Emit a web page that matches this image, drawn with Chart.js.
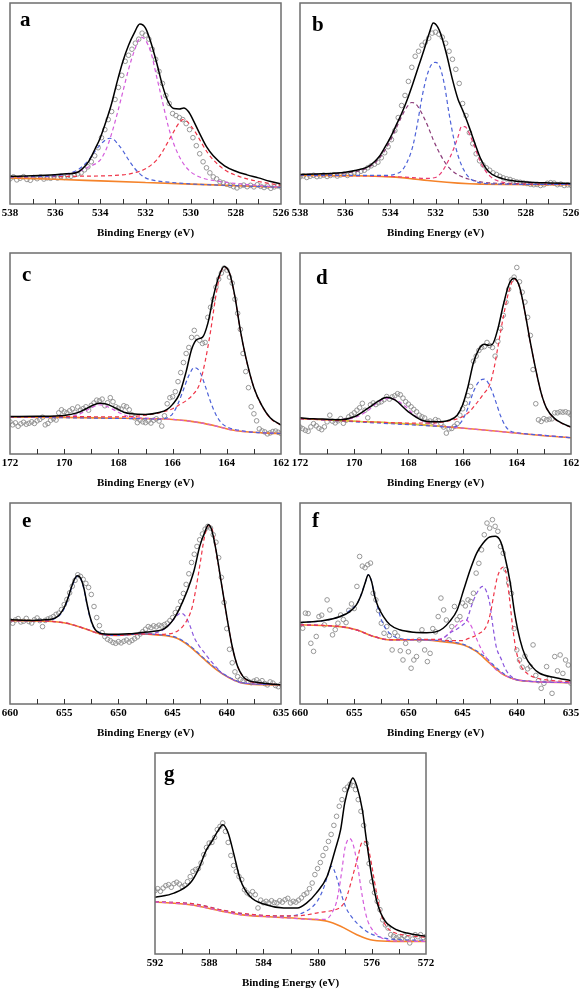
<!DOCTYPE html>
<html>
<head>
<meta charset="utf-8">
<script src="https://cdn.jsdelivr.net/npm/chart.js@4.4.1/dist/chart.umd.min.js"></script>
<style>
html, body { margin: 0; padding: 0; background: #fff; width: 581px; height: 992px; overflow: hidden; position: relative; }
canvas { position: absolute; }
.tag { position: absolute; font: bold 21px 'Liberation Serif', 'Times New Roman', serif; line-height: 21px; color: #000; }
</style>
</head>
<body>
<canvas id="pa" width="311" height="250" style="left:-10px;top:-7px"></canvas>
<canvas id="pb" width="311" height="250" style="left:280px;top:-7px"></canvas>
<canvas id="pc" width="311" height="250" style="left:-10px;top:243px"></canvas>
<canvas id="pd" width="311" height="250" style="left:280px;top:243px"></canvas>
<canvas id="pe" width="311" height="250" style="left:-10px;top:493px"></canvas>
<canvas id="pf" width="311" height="250" style="left:280px;top:493px"></canvas>
<canvas id="pg" width="311" height="249" style="left:135px;top:743px"></canvas>
<div class="tag" style="left:20px;top:9px">a</div>
<div class="tag" style="left:312px;top:14px">b</div>
<div class="tag" style="left:22px;top:264px">c</div>
<div class="tag" style="left:316px;top:267px">d</div>
<div class="tag" style="left:22px;top:510px">e</div>
<div class="tag" style="left:312px;top:510px">f</div>
<div class="tag" style="left:164px;top:763px">g</div>
<script>
// measured points, on a regular energy grid (start, step, values)
var aStart = 538, aStep = 0.15;
var aPts = [12.5,13.5,12,12.8,13.6,12.2,11.8,13.2,12.6,13.5,12.4,13,12.8,13.5,12.9,13.8,13.2,14,13.8,14.5,
  15,15.5,17,18.5,21,24,28,33,37,42,46,52,58,64,71,74,77,80,82,85,84,82,77,72,66,60,54,50,45,44,
  43,42,40,37,33,29,25,21,18,15.5,13.5,12.5,11,10.5,9.8,9.3,8.6,8,9,9.4,8.6,9.3,8.5,9.6,8.8,8.2,8.9,7.8,8.5,9,8.4];
var bStart = 538, bStep = 0.15;
var bPts = [13.5,14,13.2,13.8,14.3,13.6,13.9,14.4,13.7,14.2,14.6,13.9,14.5,14.8,14.2,15,15.6,15.2,16.3,16.8,
  18,19,19.8,20.8,23,25.5,28.5,32,36.5,43,49,54,61,68,73.5,76,79,80.5,82.5,85,85.5,84.5,83,80,76,72,67,60,50,44,
  35.5,30,25,21.5,19.5,18,16.8,15.5,14.7,13.8,13,12.5,12.2,11.5,11,10.8,10.5,10.2,9.8,9.6,9.7,9.2,9.6,10.3,10.6,10.4,9.6,9.9,9.2,9.5,9.3];
var cStart = 172, cStep = 0.1;
var cPts = [16,14.5,15.5,13.8,15,15.8,14.8,15.3,16,15.2,16.5,17.2,18.3,14.5,15.2,16.8,17.6,16.9,20.5,22,
  21,20.5,21.5,22.5,20.8,23.4,21.8,22.6,23.5,21.8,24.2,25.4,26.8,26.4,27.3,24,25.5,28,26,23.5,
  22.8,22.3,24,23.5,22,19.5,18,15.6,16.8,16,15.6,16.4,15.4,16.8,17.5,16.4,13.9,19,25,28,
  28.5,31,36,40.5,45.5,50,53,58,61.5,58,56.5,55,55.5,68,73,77,83,87,90,92.5,
  91.5,88,85,77,70,62,50,41,33,23.5,20,16.5,12.5,11.5,11,10,10.5,11.2,11.4,10.8,10.2];
var dStart = 172, dStep = 0.1;
var dPts = [13.4,12.6,11.8,11.3,13.5,15.1,14,12.8,12.1,13.5,16,19.3,16.3,15.5,16.5,17.6,15.3,16.8,18.5,19.5,
  20.5,21.8,23,25.2,21.8,18,24.5,25.4,24.6,25.5,26,27,28.6,27.3,28.4,29,30,29.5,27.8,26,
  24.8,23.5,22.2,21,19.3,18.5,17.9,16,16.4,15.8,17.1,16.6,15.2,13.4,10.4,12.5,12.7,13.8,15.1,19.3,
  22.5,25.2,29,33.6,46.2,48.7,51.5,53,53.4,55.5,54,53,48.7,56,62.5,69,75.5,82,86.6,88,
  92.8,85.7,80.5,75.6,68,59,42,25,17,16.2,17.6,17,17.3,17.5,20.5,20.5,21,20.8,21,20.5,19.5];
var eStart = 660, eStep = 0.25;
var ePts = [41.5,40.2,41.8,42.5,40.8,41.2,42.6,41,40.3,41.9,42.8,41.5,38.5,41.6,42.3,42.8,43.5,44.6,45.2,47,
  49.5,52,55.3,58.6,61.5,64.3,63.5,62,60,58,54.5,48.5,43,39,35.5,33.5,32.2,31.5,30.6,30.2,
  31,30.4,31.2,31.8,30.8,31.6,32.5,33.4,34.8,36,37.2,38.5,38,38.9,38.4,39.2,38.8,39.5,40.2,41.5,
  43,45.5,47.5,51,55,59.5,64.8,70.4,74.5,78.4,81.7,84.6,87,88.4,87.5,84.2,80.5,72.8,63,50.5,
  37.5,27.2,20.5,16,13.6,12.2,11.6,12.5,11.2,10.6,11.4,12,10.8,11.6,10.2,9.5,11,10.4,9.2,8.6,9.8];
var fStart = 660, fStep = 0.25;
var fPts = [39.5,37.7,45.2,45,30.2,26.2,33.6,43.5,44.2,39.4,51.8,46.8,34.4,37,40.2,44.3,42,40.5,46.6,49.8,
  47.5,58.5,73.4,68.6,67.8,69.3,70.1,55.1,51.8,46.5,40.2,35.2,38.5,34,26.9,35.5,33.8,26.5,21.9,30.2,
  26,17.8,21.9,23.6,31.9,36.9,26.9,21.1,25.2,37.5,35.9,43.5,52.7,46.8,41.8,31.9,38.5,48.5,41.9,43.5,
  50.2,48.8,51.8,51,55.1,65.1,70,76.7,84.2,90,87.5,91.7,88.4,85.9,78.4,75,66.8,60.2,55,37.5,
  26.9,21.9,18.3,23.8,17.5,18.6,29.4,14.2,11.6,7.8,10.3,18.6,12.5,5.3,23.6,16.5,24.4,15.2,21.9,19.4,10.3];
var gStart = 592, gStep = 0.2;
var gPts = [31.5,32.5,31.2,32.8,34,34.5,33.2,35,35.7,34.8,33.5,34.2,36,38.5,41.1,42,42.5,45.3,49.4,53,
  55.2,55.5,58,61.9,63.5,65.2,61,55.5,49,44,41.1,38.5,37,32,30.4,29.5,31,29.5,22.9,26.8,
  25.5,26.2,25.4,26.5,25.6,25.4,26.5,25.8,27,27.7,25.4,26.2,25.8,26.8,27.9,29.5,30.3,32.5,35.3,39.5,
  42.5,45.5,49,52.5,56,59.5,64,68.5,73.5,76.8,81.8,83,84.5,83.8,81.8,76.8,71,64,55,45,
  36,30.5,26.2,22.1,17,14.5,12.9,9.6,8.8,8,8.5,7.6,8.9,7.8,5.5,7.4,9.6,8.6,9.6,8.2,8.8];

// fitted curves [energy, intensity]
var aFit = [[538,13.8],[537,14],[536,14.5],[535.5,15],[535,15.8],[534.75,18],[534.5,21.5],[534.25,27],[534,33],[533.75,41],[533.5,50],[533.25,61],[533,71],[532.75,79],[532.5,85],[532.25,89.5],[532,87.5],[531.75,80],[531.5,70],[531.25,59],[531,51],[530.75,47.5],[530.5,47.3],[530.3,47.8],[530.1,46],[529.9,42],[529.6,35],[529.3,28.5],[529,24],[528.5,19],[528,16.3],[527.5,14.5],[527,13],[526.5,11.3],[526,10]];
var aMagenta = [[538,13.5],[536,14.2],[535,16],[534.5,18.5],[534,22],[533.75,27],[533.5,35],[533.25,45],[533,56],[532.75,67],[532.5,76],[532.2,83],[532,81.5],[531.75,75],[531.5,63],[531.25,51],[531,39],[530.75,30],[530.5,23.5],[530.25,19],[530,16],[529.5,13],[529,11.7],[528,10.2],[527,9.2],[526,8.4]];
var aBlue = [[538,13.5],[536,14],[535.5,15],[535,17],[534.5,22],[534.25,26],[534,29.5],[533.75,32],[533.6,32.7],[533.4,32],[533.2,29.5],[533,26.5],[532.75,22],[532.5,18],[532.25,15],[532,13],[531.5,11.5],[531,10.9],[530,10],[528,9.1],[526,8.3]];
var aRed = [[538,13.3],[535,13.8],[533,14.5],[532.5,15.5],[532,17.5],[531.5,22],[531.25,26],[531,31],[530.75,36],[530.5,40.5],[530.35,42],[530.2,41.5],[530,39],[529.75,35],[529.5,30],[529.25,25.5],[529,22],[528.5,17],[528,14.3],[527.5,12.5],[527,11.2],[526,9.3]];
var aBg = [[538,13],[536,12.3],[534,11.5],[532,10.7],[530,9.9],[528,9.1],[526,8.3]];

var bFit = [[538,14.7],[537,15],[536,15.8],[535.5,16.8],[535,18.5],[534.75,20.5],[534.5,23.5],[534.25,28],[534,33],[533.75,39],[533.5,45],[533.25,52],[533,60],[532.75,68.5],[532.5,77],[532.25,86],[532.1,90],[531.9,88],[531.75,84],[531.5,74],[531.25,62],[531,52],[530.85,48],[530.7,44],[530.5,38],[530.25,30],[530,22.5],[529.75,17.5],[529.5,14.8],[529,12.5],[528.5,11.5],[528,11],[527,10.5],[526,10.2]];
var bBlue = [[538,14.3],[535,14.2],[534,14.3],[533.75,15],[533.5,16.5],[533.25,21],[533,29],[532.8,40],[532.6,53],[532.4,63],[532.2,69],[532,70.5],[531.8,68],[531.6,59],[531.4,45],[531.2,33],[531,24],[530.75,17],[530.5,13],[530.25,11.3],[530,10.5],[529,9.9],[526,9.7]];
var bPurple = [[538,14.6],[536,15.5],[535,18],[534.5,22.5],[534,31.5],[533.75,37.5],[533.5,43.5],[533.25,48.5],[533.05,50.5],[532.85,49.5],[532.6,45],[532.35,39],[532.1,32],[531.85,26],[531.6,21],[531.35,17.5],[531,14.5],[530.5,12.3],[530,11],[529,10.2],[528,9.9],[526,9.7]];
var bRed = [[538,14.2],[534,13.7],[533,13.1],[532.5,12.7],[532,13.2],[531.75,15.5],[531.5,20],[531.25,26],[531,33.5],[530.85,38.5],[530.7,38.5],[530.5,35],[530.3,29.5],[530.1,23.5],[529.9,18.5],[529.6,14],[529.3,11.8],[529,10.8],[528,10],[526,9.7]];
var bBg = [[538,14.2],[536,14.1],[535,13.9],[534,13.5],[533.5,13.1],[533,12.5],[532.5,11.9],[532,11.3],[531.5,10.8],[531,10.4],[530.5,10.1],[530,9.9],[529,9.7],[526,9.6]];

var cFit = [[172,18.6],[171,18.8],[170,19.2],[169.5,20.6],[169.2,22.5],[169,23.9],[168.7,25.3],[168.4,24.7],[168.1,22.8],[167.8,20.8],[167.5,20],[167,19.7],[166.5,20.6],[166.2,22.2],[166,24.7],[165.75,29.8],[165.5,41],[165.3,52],[165.1,57],[164.9,58],[164.7,65],[164.5,78],[164.3,88],[164.1,93.3],[163.9,90],[163.7,78.3],[163.5,61.5],[163.3,48.2],[163,33],[162.7,23.9],[162.4,18],[162,14.4]];
var cRed = [[172,18.4],[170,18.6],[168,18.5],[167,19.3],[166.5,20.5],[166,22.5],[165.75,24.5],[165.5,26.5],[165.25,29.5],[165,35],[164.8,46],[164.6,61],[164.4,79],[164.25,89],[164.1,93],[163.9,90],[163.7,78],[163.5,61.5],[163.3,48],[163,33],[162.7,23.8],[162.4,17.8],[162,14.3]];
var cBlue = [[172,18.4],[168,17.7],[167,17.5],[166.5,17.3],[166.2,18],[166,20],[165.8,25],[165.6,32],[165.4,39],[165.2,43],[165,41],[164.8,34],[164.6,26],[164.4,19.5],[164.2,15.5],[164,13.5],[163.5,11.7],[163,10.8],[162,10.2]];
var cMagenta = [[172,18.4],[170,18.5],[169.5,19.5],[169.2,21.5],[169,23],[168.7,24.5],[168.4,23.5],[168.1,21.5],[167.8,19.5],[167.5,18.3],[167,17.8],[166,17.2],[165,15.6],[164.4,13.9],[163.8,11.9],[163.1,10.9],[162,10.2]];
var cBg = [[172,18.4],[170,18.2],[168,17.8],[167.4,17.7],[166,17.2],[165.5,16.6],[165,15.6],[164.4,13.9],[163.8,11.9],[163.4,11.2],[163.1,10.9],[162.5,10.4],[162,10.2]];

var dFit = [[172,18],[171.5,17.5],[171,17.3],[170.5,17.1],[170,18.5],[169.5,22.7],[169,27.2],[168.8,28.2],[168.5,26.9],[168,21],[167.5,16.8],[167,16],[166.5,16.8],[166.2,19.3],[166,24.4],[165.8,33.6],[165.6,45.4],[165.4,52.1],[165.2,54.6],[165.05,54.1],[164.9,54.6],[164.7,62.2],[164.5,74],[164.3,84],[164.1,87.4],[163.9,83.2],[163.7,70.6],[163.5,55.5],[163.3,42],[163.1,30.3],[162.9,22.7],[162.6,17.6],[162.3,15.1],[162,13.4]];
var dRed = [[172,17.6],[170,16.3],[169,15.8],[168,15.4],[167,15.5],[166.5,16.5],[166.2,17.5],[166,18.5],[165.75,21],[165.5,25],[165.25,29.5],[165,34.5],[164.85,42],[164.7,53],[164.5,68],[164.3,80.5],[164.1,87],[163.9,83],[163.7,70.5],[163.5,55.5],[163.3,42],[163.1,30.3],[162.9,22.7],[162.6,17.5],[162.3,15],[162,13.3]];
var dBlue = [[172,17.6],[169,15.3],[167,13.8],[166.5,13.3],[166.2,14],[166,17],[165.8,23],[165.6,31],[165.4,36],[165.2,37.3],[165,34],[164.8,27],[164.6,19],[164.4,13.5],[164.2,11.2],[164,10.6],[163,9.3],[162,8.1]];
var dMagenta = [[172,17.6],[171,17.1],[170.5,17.2],[170,18],[169.5,21.5],[169.2,25],[168.9,27.3],[168.7,27.7],[168.4,26.5],[168.1,23.5],[167.8,19.5],[167.5,16.5],[167.2,15],[167,14.2],[166.5,13.5],[166,12.9],[164,10.4],[162,8.1]];
var dLime = [[170.8,16.8],[169.5,16],[168.5,15.4],[167.5,14.5],[166.8,13.8]];
var dBg = [[172,17.6],[170,16.3],[168.7,15.5],[167,14],[166.2,13.1],[165,11.7],[163.8,10.1],[163,9.1],[162,8.1]];

var eFit = [[660,41.9],[658,41.6],[657,41.8],[656,42.4],[655.5,44],[655,48],[654.7,52],[654.4,57],[654.1,61.5],[653.8,63.8],[653.5,62.8],[653.2,58],[652.9,50],[652.6,43],[652.3,38.5],[652,36.2],[651.5,35],[650,34.7],[649,34.9],[648,35.5],[647,36],[646,36.9],[645.5,38.5],[645,41.5],[644.5,46],[644,51.8],[643.5,58.5],[643,66.8],[642.5,78.4],[642,85.9],[641.7,89.2],[641.4,86.7],[641,76.7],[640.5,60.1],[640,43.5],[639.5,28.6],[639,18.6],[638.5,13.6],[638,11.6],[637,10.6],[636,10],[635,9.6]];
var eBlue = [[660,41.5],[657,41.6],[656,42.2],[655.5,43.8],[655,47.5],[654.7,51.5],[654.4,56.5],[654.1,61],[653.8,63.5],[653.5,62.5],[653.2,57.5],[652.9,49.5],[652.6,42.5],[652.3,38.2],[652,36.5],[651.5,34.9],[651,34.2],[650,34.1],[648,34.9],[646.5,34.6],[644.6,33],[643.4,29],[642.2,23.2],[640.9,17.3],[639.7,13.1],[638.5,10.5],[636.6,9.8],[635,9.6]];
var eRed = [[660,41.5],[656.6,41.2],[654.8,40.2],[653.2,37.7],[651.7,34.9],[650.2,34.1],[648,34.9],[647,34.7],[646,34.6],[645.5,34.8],[645,35.2],[644.5,36.5],[644,39],[643.5,43.5],[643.2,48],[643,53],[642.7,62],[642.4,72],[642.1,82],[641.8,88],[641.6,88.8],[641.3,86],[641,76.5],[640.5,60],[640,43.5],[639.5,28.5],[639,18.6],[638.5,13.6],[638,11.5],[637,10.5],[635,9.5]];
var eViolet = [[660,41.5],[656.6,41.2],[654.8,40.2],[653.2,37.7],[651.7,34.9],[650.2,34.1],[648,34.9],[647,35],[646.5,35.5],[646,36.5],[645.5,38.5],[645,41.5],[644.6,44],[644.2,45.2],[643.8,43.5],[643.4,39],[643,33],[642.5,28.5],[642,25],[641.5,21.5],[641,18.5],[640.5,15.5],[640,13.8],[639.5,12.3],[639,11],[638,10.2],[635,9.5]];
var eBg = [[660,41.5],[656.6,41.2],[654.8,40.2],[653.2,37.7],[651.7,34.9],[650.2,34.1],[648,34.9],[646.5,34.4],[644.6,32.7],[643.4,28.6],[642.2,22.8],[640.9,16.9],[639.7,12.8],[638.5,10.3],[636.6,9.6],[635,9.5]];

var fFit = [[660,40.5],[657.8,41.5],[656.3,43.5],[655.4,46],[654.8,49.3],[654.3,55.1],[654,60.1],[653.7,64.3],[653.4,61],[653.1,53.5],[652.8,48.5],[652.3,43.5],[651.7,39.4],[650.8,36.9],[649.5,35.7],[648.3,35.5],[647.4,36],[646.8,37.7],[646.2,41],[645.5,46.8],[644.9,56.8],[644.3,66.8],[643.7,75.1],[643.1,80.1],[642.5,83.1],[642,83.4],[641.5,80.9],[641.1,73.4],[640.6,60.1],[640.2,45.2],[639.7,31.9],[639.2,23.6],[638.6,18.6],[637.9,15.3],[636.6,13.3],[635,11.6]];
var fBlue = [[660,40.5],[658,41.3],[657,42.3],[656.3,43.5],[655.7,45.3],[655.2,47.5],[654.8,49.3],[654.5,52.5],[654.2,57],[654,60],[653.7,64.3],[653.4,61],[653.1,53.5],[652.8,47.5],[652.5,42],[652.2,38.5],[651.8,35.5],[651.3,33.5],[650.5,32.3],[649,32],[647,31.5],[645,29.8],[644,27.2],[643,23.8],[642,18.6],[641,14.3],[640,12.1],[638,11.1],[635,10.6]];
var fRed = [[660,39.4],[656.3,38.5],[654.8,36.9],[653.2,33.6],[651.7,32],[648,32.2],[646,31.5],[645,31.5],[644.5,32.5],[644,33.5],[643.5,35],[643,37],[642.7,40],[642.4,46],[642.1,55],[641.8,63],[641.5,67],[641.25,68.1],[641,65.5],[640.8,58],[640.6,49],[640.4,39],[640.2,31],[640,25],[639.6,18.8],[639,15],[638.5,13.5],[637.5,12.2],[635,11]];
var fViolet = [[660,39.4],[656.3,38.5],[654.8,36.9],[653.2,33.6],[651.7,31.9],[648.6,31.9],[647.1,32],[646.2,35.2],[645.2,38.5],[644.6,41.9],[644.2,48.5],[643.7,55.1],[643.15,58.5],[642.8,56],[642.5,50.2],[642.2,38.5],[641.9,28.6],[641.4,21.9],[641,16.9],[640.3,12.8],[639.4,11.6],[635,10.6]];
var fMagenta = [[660,39.4],[656.3,38.5],[654.8,36.9],[653.2,33.6],[651.7,32],[647.5,32],[647,32.5],[646.5,34],[646,36.5],[645.5,39.5],[645,41.5],[644.7,41.9],[644.4,40.5],[644,36.5],[643.6,31],[643.2,26.5],[642.8,23],[642.4,20],[642,17.5],[641.5,15.5],[641,14],[640,12],[635,10.6]];
var fBg = [[660,39.4],[656.3,38.5],[654.8,36.9],[653.2,33.6],[651.7,31.9],[648.6,31.9],[647.1,31.1],[644.9,29.4],[643.7,26.1],[642.5,20.3],[641.2,14.5],[640,12],[638.2,11.1],[635,10.6]];

var gFit = [[592,28.2],[590.6,30.3],[589.4,35.3],[588.8,42],[588.2,51.9],[587.8,56.1],[587.3,61.9],[587,64.3],[586.6,60.2],[586.2,50.2],[585.7,37],[585,28.7],[583.8,24.5],[582.5,22.9],[581.5,22.9],[580.8,25.4],[580.1,30.3],[579.3,38.6],[578.7,51.9],[578.3,61.9],[578,75.1],[577.6,85.1],[577.4,87.6],[577.1,83.4],[576.7,71.8],[576.4,56.9],[576,38.6],[575.6,25.4],[575.1,17.1],[574.4,12.9],[573.4,10.4],[572,8.8]];
var gBlue = [[592,26],[589,24.8],[587,21.8],[585.5,20],[584,19.2],[582.5,18.8],[581.5,19.5],[581,20.8],[580.5,22.8],[580,26.5],[579.6,32],[579.3,38],[579,43.6],[578.8,42],[578.5,36],[578.2,28.7],[577.9,23],[577.6,19.5],[577.1,15.4],[576.4,11.3],[575.6,8.8],[574.7,7.5],[572,6.8]];
var gMagenta = [[592,25.9],[589.4,24.5],[587,21.2],[585.7,19.6],[583.3,18.4],[581,17.4],[580,17.2],[579.5,17.2],[579.2,18],[578.9,21],[578.6,26],[578.4,33],[578.2,42],[578,52],[577.8,56.5],[577.65,57.4],[577.45,56],[577.25,51],[577,42],[576.85,35],[576.7,28.7],[576.5,21.5],[576.3,16.5],[576,12.5],[575.6,9.5],[575,7.2],[574,6.4],[572,6.3]];
var gRed = [[592,26],[589,24.8],[587,21.8],[585,19.8],[583,19],[581.5,19],[580.5,19.8],[580,20.5],[579.5,21],[579,21.5],[578.5,22.5],[578.2,24],[578,26],[577.8,29.5],[577.6,34],[577.4,39],[577.2,44],[577,49],[576.8,54.5],[576.6,56],[576.4,55.2],[576.2,51],[576,44],[575.8,36],[575.6,28.7],[575.4,22],[575.2,17.5],[575,14.5],[574.7,12],[574.2,10.3],[573.5,9.3],[572,8.3]];
var gBg = [[592,25.9],[589.4,24.5],[587,21.2],[585.7,19.6],[583.3,18.4],[580.8,17.4],[579.3,16.3],[578.3,13.8],[577.1,9.6],[575.9,6.8],[574.4,6.3],[572,6.3]];

var BLUE = '#4d62d8', MAGENTA = '#d45cdc', RED = '#ef3548', PURPLE = '#8a3a78',
    PINK = '#e83a72', VIOLET = '#8a55dd', LIME = '#c6e044', ORANGE = '#f5832a';

// box and inward ticks on the bottom edge
var framePlugin = {
  id: 'frame',
  afterDatasetsDraw: function (chart, args, opts) {
    var ctx = chart.ctx, a = chart.chartArea, x = chart.scales.x;
    ctx.save();
    ctx.strokeStyle = '#6e6e6e';
    ctx.lineWidth = 1.5;
    ctx.strokeRect(a.left, a.top, a.right - a.left, a.bottom - a.top);
    ctx.strokeStyle = '#333';
    ctx.lineWidth = 1;
    var n = Math.round((x.max - x.min) / opts.minor);
    for (var i = 1; i < n; i++) {
      var px = Math.round(x.getPixelForValue(x.min + i * opts.minor)) + 0.5;
      ctx.beginPath();
      ctx.moveTo(px, a.bottom);
      ctx.lineTo(px, a.bottom - 5);
      ctx.stroke();
    }
    ctx.restore();
  }
};

function curve(data, color, dashed, width) {
  return {
    data: data, borderColor: color, borderWidth: width || 1.2,
    borderDash: dashed ? [4, 3] : [], pointRadius: 0, fill: false,
    cubicInterpolationMode: 'monotone'
  };
}

function points(start, step, vals) {
  return {
    data: vals.map(function (v, i) { return { x: +(start - i * step).toFixed(3), y: v }; }),
    showLine: false, pointRadius: 2.3, pointStyle: 'circle',
    pointBorderColor: '#8c8c8c', pointBackgroundColor: 'rgba(0,0,0,0)', pointBorderWidth: 0.9
  };
}

var serif = "'Liberation Serif', 'Times New Roman', serif";

function makeChart(id, xmin, xmax, step, minor, datasets) {
  return new Chart(document.getElementById(id), {
    type: 'line',
    data: { datasets: datasets },
    options: {
      responsive: false,
      animation: false,
      events: [],
      layout: { padding: { left: 20, right: 20, top: 10, bottom: id === 'pg' ? 2 : 3 } },
      plugins: { legend: { display: false }, tooltip: { enabled: false }, frame: { minor: minor } },
      scales: {
        x: {
          type: 'linear', reverse: true, min: xmin, max: xmax,
          grid: { display: false, drawTicks: false },
          border: { display: false },
          ticks: {
            stepSize: step, autoSkip: false, maxRotation: 0, padding: 3, color: '#000',
            font: { family: serif, size: 11, weight: 'bold' },
            callback: function (v) { return String(v); }
          },
          title: {
            display: true, text: 'Binding Energy (eV)', color: '#000', padding: 0,
            font: { family: serif, size: 11, weight: 'bold' }
          },
          afterFit: function (s) { s.height = 36; }
        },
        y: { display: false, min: 0, max: 100 }
      }
    },
    plugins: [framePlugin]
  });
}

makeChart('pa', 526, 538, 2, 1, [
  curve(aFit, '#000', false, 1.5),
  curve(aBlue, BLUE, true), curve(aMagenta, MAGENTA, true), curve(aRed, RED, true),
  curve(aBg, ORANGE, false, 1.6),
  points(aStart, aStep, aPts)
]);
makeChart('pb', 526, 538, 2, 1, [
  curve(bFit, '#000', false, 1.5),
  curve(bBlue, BLUE, true), curve(bPurple, PURPLE, true), curve(bRed, PINK, true),
  curve(bBg, ORANGE, false, 1.6),
  points(bStart, bStep, bPts)
]);
makeChart('pc', 162, 172, 2, 1, [
  curve(cFit, '#000', false, 1.5),
  curve(cRed, RED, true), curve(cBlue, BLUE, true), curve(cMagenta, MAGENTA, true),
  curve(cBg, ORANGE, false, 1.6),
  points(cStart, cStep, cPts)
]);
makeChart('pd', 162, 172, 2, 1, [
  curve(dFit, '#000', false, 1.5),
  curve(dRed, RED, true), curve(dBlue, BLUE, true), curve(dMagenta, MAGENTA, true),
  curve(dLime, LIME, true),
  curve(dBg, ORANGE, false, 1.6),
  points(dStart, dStep, dPts)
]);
makeChart('pe', 635, 660, 5, 2.5, [
  curve(eFit, '#000', false, 1.5),
  curve(eRed, RED, true), curve(eViolet, VIOLET, true), curve(eBlue, BLUE, true),
  curve(eBg, ORANGE, false, 1.6),
  points(eStart, eStep, ePts)
]);
makeChart('pf', 635, 660, 5, 2.5, [
  curve(fFit, '#000', false, 1.5),
  curve(fRed, RED, true), curve(fViolet, VIOLET, true), curve(fMagenta, MAGENTA, true), curve(fBlue, BLUE, true),
  curve(fBg, ORANGE, false, 1.6),
  points(fStart, fStep, fPts)
]);
makeChart('pg', 572, 592, 4, 2, [
  curve(gFit, '#000', false, 1.5),
  curve(gMagenta, MAGENTA, true), curve(gRed, RED, true), curve(gBlue, BLUE, true),
  curve(gBg, ORANGE, false, 1.6),
  points(gStart, gStep, gPts)
]);
</script>
</body>
</html>
